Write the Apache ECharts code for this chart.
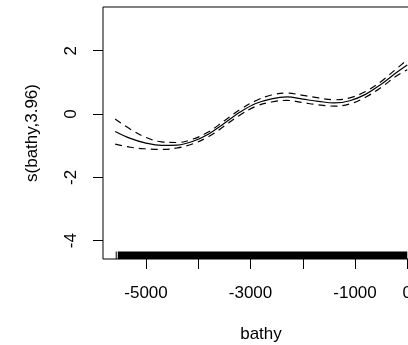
<!DOCTYPE html>
<html>
<head>
<meta charset="utf-8">
<script src="https://cdn.jsdelivr.net/npm/echarts@6/dist/echarts.min.js"></script>
<style>
html,body{margin:0;padding:0;background:#fff;}
#chart{width:408px;height:345px;}
</style>
</head>
<body>
<div id="chart"></div>
<script>
// bathymetry grid (x) and smooth estimate with +/- 2 SE bands
var bathy = [-5590, -5300, -5000, -4700, -4400, -4100, -3800, -3500, -3200, -2900,
             -2600, -2300, -2000, -1700, -1400, -1100, -800, -500, -200, 0];
var fit   = [-0.55, -0.77, -0.92, -0.99, -0.98, -0.86, -0.63, -0.29, 0.06, 0.33,
             0.48, 0.54, 0.47, 0.40, 0.35, 0.42, 0.62, 0.94, 1.32, 1.55];
var upper = [-0.16, -0.48, -0.74, -0.88, -0.90, -0.79, -0.56, -0.21, 0.14, 0.42,
             0.60, 0.66, 0.59, 0.51, 0.45, 0.51, 0.71, 1.03, 1.44, 1.71];
var lower = [-0.95, -1.05, -1.10, -1.12, -1.07, -0.94, -0.71, -0.38, -0.03, 0.24,
             0.38, 0.43, 0.36, 0.29, 0.25, 0.32, 0.53, 0.84, 1.21, 1.40];
// rug extents (observations are dense over these ranges)
var rugRanges = [[-5580, -5574], [-5540, 0]];
var xTicks = [-5000, -4000, -3000, -2000, -1000, 0];
var xLabels = [-5000, -3000, -1000, 0];
var yTicks = [-4, -2, 0, 2];

var X_MIN = -5823, X_MAX = 224, Y_MIN = -4.58, Y_MAX = 3.38;

function pairs(xs, ys){ return xs.map(function(x,i){ return [x, ys[i]]; }); }

var chart = echarts.init(document.getElementById('chart'), null, {renderer:'canvas'});
var font = 'Liberation Sans, Arial, Helvetica, sans-serif';
chart.setOption({
  animation: false,
  backgroundColor: '#fff',
  grid: {left: 103, top: 7, width: 316, height: 252, containLabel: false, outerBoundsMode: 'none',
         show: true, borderColor: '#000', borderWidth: 1, backgroundColor: 'transparent'},
  xAxis: {
    type: 'value', min: X_MIN, max: X_MAX,
    name: 'bathy', nameLocation: 'middle', nameGap: 67,
    nameTextStyle: {fontFamily: font, fontSize: 17, color: '#000'},
    axisLine: {show: false, onZero: false},
    axisTick: {show: true, inside: false, length: 10, customValues: xTicks, lineStyle: {color: '#000', width: 1}},
    axisLabel: {customValues: xLabels, fontFamily: font, fontSize: 17, color: '#000', margin: 26,
                formatter: function(v){ return String(v); }},
    splitLine: {show: false}
  },
  yAxis: {
    type: 'value', min: Y_MIN, max: Y_MAX,
    name: 's(bathy,3.96)', nameLocation: 'middle', nameGap: 62,
    nameTextStyle: {fontFamily: font, fontSize: 17, color: '#000'},
    axisLine: {show: false, onZero: false},
    axisTick: {show: true, inside: false, length: 10, customValues: yTicks, lineStyle: {color: '#000', width: 1}},
    axisLabel: {customValues: yTicks, rotate: 90, fontFamily: font, fontSize: 17, color: '#000', margin: 23,
                formatter: function(v){ return String(v); }},
    splitLine: {show: false}
  },
  series: [
    {type: 'line', data: pairs(bathy, fit), showSymbol: false, smooth: 0.4,
     lineStyle: {color: '#000', width: 1.2}},
    {type: 'line', data: pairs(bathy, upper), showSymbol: false, smooth: 0.4,
     lineStyle: {color: '#000', width: 1.2, type: [7, 5]}},
    {type: 'line', data: pairs(bathy, lower), showSymbol: false, smooth: 0.4,
     lineStyle: {color: '#000', width: 1.2, type: [7, 5]}},
    {type: 'custom', data: rugRanges, clip: true,
     renderItem: function(params, api){
       var p0 = api.coord([api.value(0), Y_MIN]);
       var p1 = api.coord([api.value(1), Y_MIN]);
       var h = params.coordSys.height * 0.03;
       return {type: 'rect', shape: {x: p0[0], y: p0[1] - h, width: Math.max(1, p1[0] - p0[0]), height: h},
               style: {fill: '#000'}};
     }}
  ]
});
</script>
</body>
</html>
